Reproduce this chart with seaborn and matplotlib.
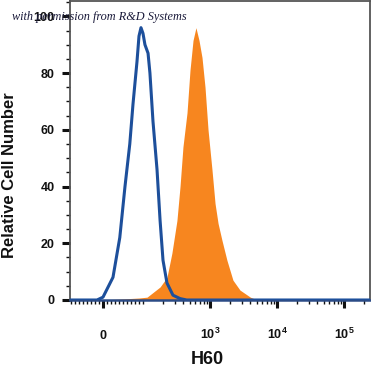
import seaborn as sns, matplotlib, matplotlib.pyplot as plt, numpy as np, pandas as pd
from matplotlib.ticker import FixedLocator

matplotlib.use('Agg')

# isotype control (blue outline) - fluorescence value vs relative count
ctrl_x = [-82, -15, 0, 25, 42, 55, 67, 75, 85, 90, 95, 100, 107, 119, 127, 141, 162, 180, 199, 228, 280, 357, 450, 244000]
ctrl_y = [0, 0, 1, 8, 22, 40, 55, 69, 84, 93, 96, 94, 90, 87, 80, 63, 46, 28, 14, 6, 1.7, 0.5, 0, 0]

# H60 stained (orange fill)
h60_x = [-7.5, 40, 90, 115, 180, 228, 270, 321, 357, 395, 454, 503, 558, 617, 686, 760, 843, 935,
         1070, 1190, 1320, 1510, 1790, 2200, 2800, 4000, 5050]
h60_y = [0, 0.3, 0.7, 1, 4.6, 8, 16.5, 28, 40, 54, 66, 81, 91.5, 96, 91.5, 85.5, 75, 60,
         46, 34, 27, 21, 14, 7, 3.5, 1, 0]

xtick_vals = [0, 1000, 10000, 100000]
xtick_text = [r'$\mathbf{0}$', r'$\mathbf{10^{3}}$', r'$\mathbf{10^{4}}$', r'$\mathbf{10^{5}}$']
ytick_vals = [0, 20, 40, 60, 80, 100]

sns.set_theme(style='white')
plt.rcParams['font.family'] = ['Liberation Sans', 'DejaVu Sans']
plt.rcParams['mathtext.fontset'] = 'custom'
plt.rcParams['mathtext.bf'] = 'Liberation Sans:bold'
plt.rcParams['mathtext.rm'] = 'Liberation Sans'

fig = plt.figure(figsize=(3.71, 3.72), dpi=100)
ax = fig.add_axes([70/371, 1-300/372, 300/371, 299/372])

ctrl = pd.DataFrame({'x': ctrl_x, 'y': ctrl_y})
h60 = pd.DataFrame({'x': h60_x, 'y': h60_y})

ax.fill_between(h60['x'], 0, h60['y'], color='#f7861f', lw=0, zorder=2)
sns.lineplot(data=ctrl, x='x', y='y', ax=ax, color='#1d4f9b', lw=2.2, sort=False, zorder=3)

ax.set_xscale('symlog', linthresh=100, linscale=0.537)
ax.set_xlim(-82.5, 244000)
ax.set_ylim(0, 105.4)

# ticks
minor_x = list(range(-80, 100, 10)) + [100 * k for k in range(1, 10)] + [1000 * k for k in range(2, 10)] \
    + [10000 * k for k in range(2, 10)] + [200000]
ax.xaxis.set_major_locator(FixedLocator(xtick_vals))
ax.xaxis.set_minor_locator(FixedLocator(minor_x))
ax.set_xticklabels(xtick_text)
ax.yaxis.set_major_locator(FixedLocator(ytick_vals))
ax.yaxis.set_minor_locator(FixedLocator(list(range(5, 106, 5))))
ax.set_yticklabels([str(v) for v in ytick_vals])

ax.tick_params(axis='both', which='major', direction='out', length=6, width=2.2, color='#111111',
               labelsize=9, labelcolor='#111111')
ax.tick_params(axis='both', which='minor', direction='out', length=3, width=1, color='#111111')
ax.tick_params(axis='x', which='major', pad=22)
ax.tick_params(axis='y', which='major', pad=5)
ax.tick_params(bottom=True, left=True, which='both')
for lab in ax.get_yticklabels():
    lab.set_fontweight('bold')
for lab in ax.get_xticklabels():
    lab.set_verticalalignment('baseline')
    lab.set_fontweight('bold')

for side in ['top', 'right', 'left']:
    ax.spines[side].set_color('#555555')
    ax.spines[side].set_linewidth(1.3)
ax.spines['bottom'].set_color('#2c4c86')
ax.spines['bottom'].set_linewidth(1.8)

ax.set_xlabel('')
ax.set_ylabel('')
ax.text(0.457, -0.2, 'H60', transform=ax.transAxes, ha='center', va='center',
        fontsize=13, fontweight='bold', color='#111111')
ax.text(-0.2, 0.418, 'Relative Cell Number', transform=ax.transAxes, ha='center', va='center',
        rotation=90, fontsize=12, fontweight='bold', color='#111111')

fig.text(12/371, 1-17/372, 'with permission from R&D Systems', ha='left', va='center',
         fontsize=8.8, style='italic', family=['Liberation Serif', 'DejaVu Serif'], color='#1a1a3a', zorder=10)

fig.savefig('out.png', dpi=100)
